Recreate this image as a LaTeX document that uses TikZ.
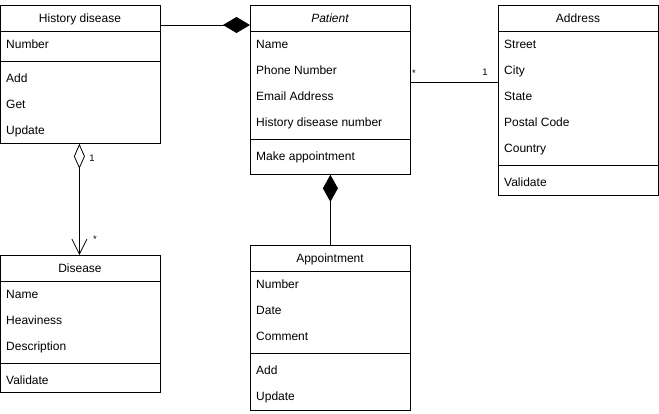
\documentclass[tikz,border=0pt]{standalone}
\usepackage{fontspec}
\setmainfont{Liberation Sans}
\usetikzlibrary{positioning, arrows.meta}

\begin{document}
\begin{tikzpicture}[
    x=1pt, y=-1pt,
    font=\fontsize{12}{14}\selectfont,
    % --- Styles ---
    classbox/.style={draw=black, line width=0.8pt, minimum width=160pt, inner sep=0pt, anchor=north west},
    title/.style={anchor=center, inner sep=0pt, text height=8pt, text depth=0pt},
    member/.style={anchor=west, inner sep=0pt, text height=8pt, text depth=0pt},
    divider/.style={draw=black, line width=0.8pt},
    assoc/.style={draw=black, line width=0.8pt},
    mult/.style={font=\fontsize{9.5}{11}\selectfont, inner sep=0pt}
]

    % --- Canvas ---
    \fill[white] (0,0) rectangle (659,413);
    \useasboundingbox (0,0) rectangle (659,413);

    % ==========================
    % 1. HISTORY DISEASE
    % ==========================
    \node[classbox, minimum height=138pt] (histdis) at (0,5) {};
    \node[title] (histdis_t) at (80,18) {History disease};
    \draw[divider] (0,31) -- (160,31);
    \draw[divider] (0,61) -- (160,61);
    \foreach \y/\t [count=\i] in {44/Number, 78/Add, 104/Get, 130/Update} {
        \node[member] (histdis_m\i) at (6,\y) {\t};
    }

    % ==========================
    % 2. PATIENT
    % ==========================
    \node[classbox, minimum height=169pt] (patient) at (250,5) {};
    \node[title] (patient_t) at (330,18) {\itshape Patient};
    \draw[divider] (250,31) -- (410,31);
    \draw[divider] (250,139) -- (410,139);
    \foreach \y/\t [count=\i] in {44/Name, 70/Phone Number, 96/Email Address,
                                  122/History disease number, 156/Make appointment} {
        \node[member] (patient_m\i) at (256,\y) {\t};
    }

    % ==========================
    % 3. ADDRESS
    % ==========================
    \node[classbox, minimum height=190pt] (address) at (498,5) {};
    \node[title] (address_t) at (578,18) {Address};
    \draw[divider] (498,31) -- (658,31);
    \draw[divider] (498,165) -- (658,165);
    \foreach \y/\t [count=\i] in {44/Street, 70/City, 96/State, 122/Postal Code,
                                  148/Country, 182/Validate} {
        \node[member] (address_m\i) at (504,\y) {\t};
    }

    % ==========================
    % 4. DISEASE
    % ==========================
    \node[classbox, minimum height=137pt] (disease) at (0,255) {};
    \node[title] (disease_t) at (80,268) {Disease};
    \draw[divider] (0,281) -- (160,281);
    \draw[divider] (0,363) -- (160,363);
    \foreach \y/\t [count=\i] in {294/Name, 320/Heaviness, 346/Description, 380/Validate} {
        \node[member] (disease_m\i) at (6,\y) {\t};
    }

    % ==========================
    % 5. APPOINTMENT
    % ==========================
    \node[classbox, minimum height=165pt] (appoint) at (250,245) {};
    \node[title] (appoint_t) at (330,258) {Appointment};
    \draw[divider] (250,271) -- (410,271);
    \draw[divider] (250,353) -- (410,353);
    \foreach \y/\t [count=\i] in {284/Number, 310/Date, 336/Comment, 370/Add, 396/Update} {
        \node[member] (appoint_m\i) at (256,\y) {\t};
    }

    % ==========================
    % 6. RELATIONS
    % ==========================

    % History disease -- Patient (composition)
    \draw[assoc, -{Diamond[length=27pt, width=16pt]}]
        ([yshift=-20pt]histdis.north east) -- ([yshift=-20pt]patient.north west);

    % Patient -- Address
    \draw[assoc] ([yshift=-77pt]patient.north east) -- ([yshift=-77pt]address.north west);
    \node[mult] (pa_many) at (414,73) {*};
    \node[mult] (pa_one) at (485,72) {1};

    % History disease -- Disease (aggregation)
    \draw[assoc, {Diamond[open, length=25pt, width=11pt]}-{Straight Barb[length=15pt, width=15pt]}]
        ([xshift=-1pt]histdis.south) -- ([xshift=-1pt]disease.north);
    \node[mult] (hd_one) at (92,158) {1};
    \node[mult] (hd_many) at (95,239) {*};

    % Patient -- Appointment (composition)
    \draw[assoc, {Diamond[length=27pt, width=15pt]}-] (patient.south) -- (appoint.north);

\end{tikzpicture}
\end{document}
